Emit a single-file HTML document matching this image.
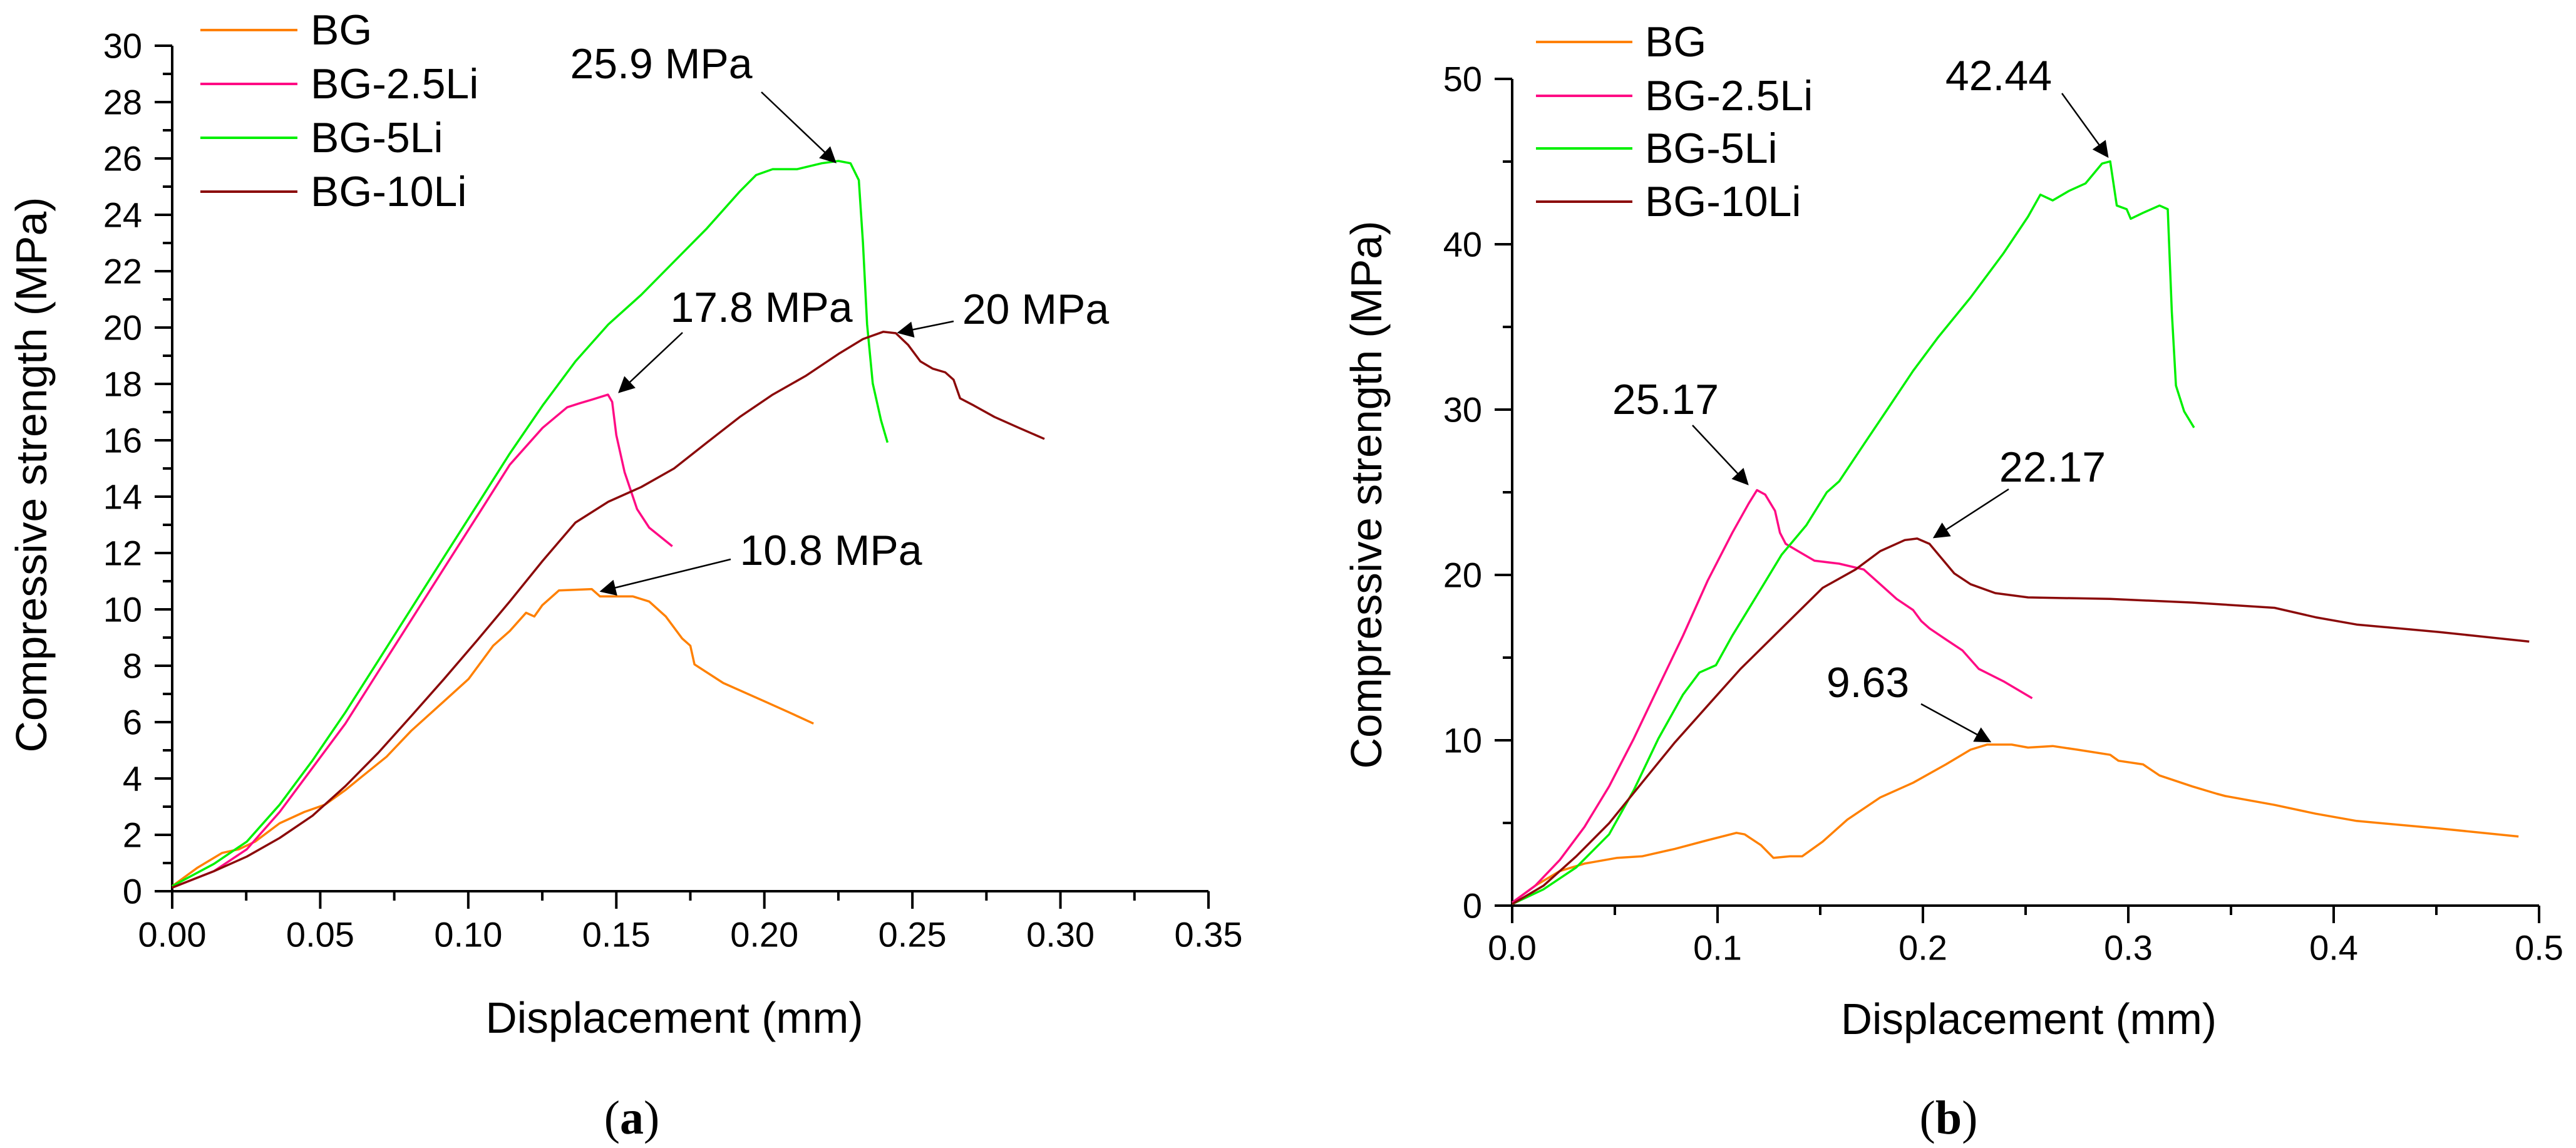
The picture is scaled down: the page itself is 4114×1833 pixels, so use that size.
<!DOCTYPE html>
<html><head><meta charset="utf-8"><style>
html,body{margin:0;padding:0;background:#fff;}
svg{display:block;font-family:"Liberation Sans",Arial,sans-serif;}
</style></head><body>
<svg id="fig" width="4114" height="1833" viewBox="0 0 4114 1833" xmlns="http://www.w3.org/2000/svg">
<defs><marker id="ah" viewBox="0 0 10 10" refX="9" refY="5" markerWidth="9" markerHeight="9" markerUnits="userSpaceOnUse" orient="auto"><path d="M0,0 L10,5 L0,10 z" fill="#000"/></marker>
<marker id="ah2" viewBox="0 0 10 10" refX="9" refY="5" markerWidth="30" markerHeight="26" markerUnits="userSpaceOnUse" orient="auto"><path d="M0,0 L10,5 L0,10 z" fill="#000"/></marker></defs>
<g id="chartA"></g>
<g id="chartB"></g>
<text x="1009" y="1810" font-family="'Liberation Serif',serif" font-size="76" text-anchor="middle">(<tspan font-weight="bold">a</tspan>)</text>
<text x="3112" y="1810" font-family="'Liberation Serif',serif" font-size="76" text-anchor="middle">(<tspan font-weight="bold">b</tspan>)</text>
</svg>
<script>
// ---- Chart A data ----
const seriesNames = ["BG","BG-2.5Li","BG-5Li","BG-10Li"];
const seriesColors = ["#ff8000","#ff0a84","#00f000","#8b0a0a"];
const aTicksX = [0,0.05,0.10,0.15,0.20,0.25,0.30,0.35];
const aTickLabelsX = ["0.00","0.05","0.10","0.15","0.20","0.25","0.30","0.35"];
const aTicksY = [0,2,4,6,8,10,12,14,16,18,20,22,24,26,28,30];
const aBG_x = [0,0.0086,0.0169,0.0225,0.028,0.0363,0.0446,0.0516,0.0585,0.064,0.0724,0.0807,0.0918,0.1001,0.1084,0.114,0.1195,0.1223,0.125,0.1306,0.1417,0.1445,0.1556,0.1611,0.1667,0.1722,0.175,0.1764,0.1861,0.2,0.2083,0.2166];
const aBG_y = [0.18,0.84,1.36,1.49,1.76,2.41,2.81,3.07,3.59,4.06,4.77,5.69,6.74,7.53,8.71,9.23,9.88,9.75,10.15,10.67,10.72,10.46,10.46,10.28,9.75,8.97,8.71,8.05,7.39,6.74,6.35,5.95];
const aLi25_x = [0,0.0141,0.0252,0.0363,0.0474,0.0585,0.0696,0.0807,0.0918,0.1029,0.114,0.1251,0.1334,0.1375,0.1417,0.1472,0.1486,0.15,0.1528,0.157,0.1611,0.1689];
const aLi25_y = [0.13,0.71,1.49,2.81,4.38,5.95,7.79,9.62,11.46,13.29,15.13,16.44,17.17,17.31,17.44,17.62,17.36,16.18,14.87,13.56,12.9,12.24];
const aLi5_x = [0,0.0141,0.0252,0.0363,0.0474,0.0585,0.0696,0.0807,0.0918,0.1029,0.114,0.1251,0.1362,0.1473,0.1584,0.1695,0.1806,0.1917,0.1972,0.2028,0.2111,0.2194,0.225,0.2291,0.2319,0.2333,0.2347,0.2366,0.2394,0.2416];
const aLi5_y = [0.18,0.97,1.76,3.07,4.64,6.35,8.18,10.02,11.86,13.69,15.53,17.23,18.8,20.11,21.16,22.34,23.52,24.83,25.41,25.62,25.62,25.83,25.91,25.83,25.23,23.0,20.11,18.02,16.71,15.92];
const aLi10_x = [0,0.0141,0.0252,0.0363,0.0474,0.0585,0.0696,0.0807,0.0918,0.1029,0.114,0.1251,0.1362,0.1473,0.1584,0.1695,0.1806,0.1917,0.2028,0.2139,0.225,0.2333,0.2402,0.2444,0.2486,0.2527,0.2569,0.2611,0.2639,0.2661,0.2708,0.2777,0.286,0.2946];
const aLi10_y = [0.13,0.71,1.23,1.89,2.68,3.73,4.91,6.21,7.53,8.89,10.28,11.72,13.08,13.82,14.34,15.0,15.92,16.83,17.62,18.28,19.06,19.59,19.85,19.8,19.38,18.8,18.54,18.41,18.15,17.49,17.23,16.83,16.44,16.05];
// ---- Chart B data ----
const bTicksX = [0,0.1,0.2,0.3,0.4,0.5];
const bTickLabelsX = ["0.0","0.1","0.2","0.3","0.4","0.5"];
const bTicksY = [0,10,20,30,40,50];
const bBG_x = [0,0.0112,0.0232,0.0352,0.0512,0.0632,0.0792,0.0952,0.1092,0.1132,0.1212,0.1272,0.1352,0.1412,0.1512,0.1632,0.1792,0.1952,0.2112,0.2232,0.2312,0.2432,0.2512,0.2632,0.2752,0.2912,0.2952,0.3072,0.3152,0.3312,0.3432,0.3472,0.3712,0.3912,0.4112,0.4512,0.49];
const bBG_y = [0.18,1.2,2.09,2.54,2.89,2.98,3.43,3.96,4.4,4.31,3.65,2.89,2.98,2.98,3.87,5.2,6.54,7.43,8.54,9.43,9.74,9.74,9.56,9.65,9.43,9.12,8.76,8.54,7.87,7.21,6.76,6.63,6.09,5.56,5.12,4.67,4.18];
const bLi25_x = [0,0.0112,0.0232,0.0352,0.0472,0.0592,0.0712,0.0832,0.0952,0.1072,0.1152,0.1192,0.1232,0.128,0.1304,0.1332,0.1392,0.1472,0.1592,0.1712,0.1792,0.1872,0.1952,0.1992,0.2032,0.2112,0.2192,0.2272,0.2392,0.2532];
const bLi25_y = [0.18,1.2,2.76,4.76,7.21,10.1,13.22,16.33,19.66,22.55,24.33,25.13,24.86,23.88,22.55,21.88,21.44,20.86,20.68,20.33,19.44,18.55,17.88,17.21,16.77,16.1,15.44,14.32,13.57,12.54];
const bLi5_x = [0,0.0152,0.0312,0.0472,0.0592,0.0712,0.0832,0.0912,0.0992,0.1072,0.1192,0.1312,0.1432,0.1532,0.1592,0.1712,0.1832,0.1952,0.2072,0.2232,0.2392,0.2512,0.2572,0.2632,0.2712,0.2792,0.2872,0.2912,0.2944,0.2992,0.3012,0.3072,0.3152,0.3192,0.3212,0.3232,0.3272,0.332];
const bLi5_y = [0.09,0.98,2.31,4.31,6.98,10.1,12.77,14.1,14.54,16.33,18.77,21.22,23.0,25.0,25.66,27.89,30.11,32.34,34.34,36.78,39.45,41.67,43.0,42.65,43.23,43.68,44.88,45.01,42.34,42.12,41.54,41.9,42.34,42.12,35.9,31.45,29.89,28.91];
const bLi10_x = [0,0.0152,0.0312,0.0472,0.0632,0.0792,0.0952,0.1112,0.1312,0.1512,0.1672,0.1792,0.1912,0.1972,0.2032,0.2092,0.2152,0.2232,0.2352,0.2512,0.2912,0.3312,0.3712,0.3912,0.4112,0.4512,0.4952];
const bLi10_y = [0.09,1.2,2.98,4.98,7.43,9.87,12.1,14.32,16.77,19.22,20.33,21.44,22.11,22.2,21.88,20.99,20.1,19.44,18.9,18.64,18.55,18.33,18.01,17.44,17.0,16.55,15.97];

const NS="http://www.w3.org/2000/svg";
function mk(parent,tag,attrs,text){const e=document.createElementNS(NS,tag);for(const k in attrs)e.setAttribute(k,attrs[k]);if(text!==undefined)e.textContent=text;parent.appendChild(e);return e;}

function drawChart(g,cfg){
  const sx=v=>cfg.x0+(v-cfg.xmin)/(cfg.xmax-cfg.xmin)*(cfg.x1-cfg.x0);
  const sy=v=>cfg.y0-(v-cfg.ymin)/(cfg.ymax-cfg.ymin)*(cfg.y0-cfg.y1);
  // axes
  let ax=mk(g,'line',{x1:cfg.x0,y1:cfg.y0,x2:cfg.x1,y2:cfg.y0,stroke:'#000','stroke-width':4});
  
  
  let ay=mk(g,'line',{x1:cfg.x0,y1:cfg.y0,x2:cfg.x0,y2:cfg.y1,stroke:'#000','stroke-width':4});
  
  
  // x ticks
  cfg.ticksX.forEach((t,i)=>{
    const x=sx(t);
    const tk=mk(g,'line',{x1:x,y1:cfg.y0,x2:x,y2:cfg.y0+28,stroke:'#000','stroke-width':4});
    
    
    const lb=mk(g,'text',{x:x,y:cfg.xLabelY,'font-size':56,'text-anchor':'middle','dominant-baseline':'central'},cfg.labelsX[i]);
    
    
    if(i<cfg.ticksX.length-1){
      const m=sx(t+(cfg.ticksX[1]-cfg.ticksX[0])/2);
      const mt=mk(g,'line',{x1:m,y1:cfg.y0,x2:m,y2:cfg.y0+15,stroke:'#000','stroke-width':4});
      
      
    }
  });
  cfg.ticksY.forEach((t,i)=>{
    const y=sy(t);
    const tk=mk(g,'line',{x1:cfg.x0-28,y1:y,x2:cfg.x0,y2:y,stroke:'#000','stroke-width':4});
    
    
    const lb=mk(g,'text',{x:cfg.yLabelX,y:y,'font-size':56,'text-anchor':'end','dominant-baseline':'central'},String(t));
    
    
    if(i<cfg.ticksY.length-1){
      const m=sy(t+(cfg.ticksY[1]-cfg.ticksY[0])/2);
      const mt=mk(g,'line',{x1:cfg.x0-15,y1:m,x2:cfg.x0,y2:m,stroke:'#000','stroke-width':4});
      
      
    }
  });
  // series
  cfg.series.forEach((s,k)=>{
    const d=s.x.map((v,i)=>(i?'L':'M')+sx(v).toFixed(1)+','+sy(s.y[i]).toFixed(1)).join(' ');
    const p=mk(g,'path',{d:d,fill:'none',stroke:seriesColors[k],'stroke-width':3.5,'stroke-linejoin':'round'});
    
    
  });
  // legend
  cfg.legendRows.forEach((ly,k)=>{
    const l=mk(g,'line',{x1:cfg.legX0,y1:ly,x2:cfg.legX1,y2:ly,stroke:seriesColors[k],'stroke-width':4});
    
    
    const t=mk(g,'text',{x:cfg.legTextX,y:ly,'font-size':68,'dominant-baseline':'central'},seriesNames[k]);
    
    
  });
  // titles
  const yt=mk(g,'text',{x:0,y:0,'font-size':70,'text-anchor':'middle','dominant-baseline':'central',transform:`translate(${cfg.yTitle[0]},${cfg.yTitle[1]}) rotate(-90)`,textLength:cfg.yTitle[2],lengthAdjust:'spacingAndGlyphs'},'Compressive strength (MPa)');
  
  
  const xt=mk(g,'text',{x:cfg.xTitle[0],y:cfg.xTitle[1],'font-size':70,'text-anchor':'middle','dominant-baseline':'central',textLength:cfg.xTitle[2],lengthAdjust:'spacingAndGlyphs'},'Displacement (mm)');
  
  
  // annotations
  cfg.notes.forEach(n=>{
    const t=mk(g,'text',{x:n[0],y:n[1],'font-size':68,'text-anchor':'middle','dominant-baseline':'central'},n[2]);
    
    
    const a=mk(g,'line',{x1:n[3],y1:n[4],x2:n[5],y2:n[6],stroke:'#000','stroke-width':2.5,'marker-end':'url(#ah2)'});
    
    
  });
}

drawChart(document.getElementById('chartA'),{
  x0:275,x1:1930,y0:1423,y1:73,xmin:0,xmax:0.35,ymin:0,ymax:30,
  ticksX:aTicksX,labelsX:aTickLabelsX,ticksY:aTicksY,xLabelY:1492,yLabelX:227,
  series:[{x:aBG_x,y:aBG_y},{x:aLi25_x,y:aLi25_y},{x:aLi5_x,y:aLi5_y},{x:aLi10_x,y:aLi10_y}],
  legendRows:[48,134,220,306],legX0:320,legX1:475,legTextX:496,
  yTitle:[50,758,887],xTitle:[1077,1625,603],
  notes:[[1056,102,'25.9 MPa',1216,147,1334,259],[1216,491,'17.8 MPa',1090,531,989,626],[1654,494,'20 MPa',1523,513,1435,531],[1327,879,'10.8 MPa',1167,893,960,944]]
});
drawChart(document.getElementById('chartB'),{
  x0:2415,x1:4055,y0:1446,y1:126,xmin:0,xmax:0.5,ymin:0,ymax:50,
  ticksX:bTicksX,labelsX:bTickLabelsX,ticksY:bTicksY,xLabelY:1513,yLabelX:2367,
  series:[{x:bBG_x,y:bBG_y},{x:bLi25_x,y:bLi25_y},{x:bLi5_x,y:bLi5_y},{x:bLi10_x,y:bLi10_y}],
  legendRows:[67,153,237,322],legX0:2453,legX1:2607,legTextX:2627,
  yTitle:[2182,790,875],xTitle:[3240,1627,600],
  notes:[[3192,121,'42.44',3293,149,3366,250],[2660,638,'25.17',2703,679,2791,773],[3278,746,'22.17',3208,781,3089,858],[2983,1090,'9.63',3068,1124,3178,1184]]
});
</script>
</body></html>
